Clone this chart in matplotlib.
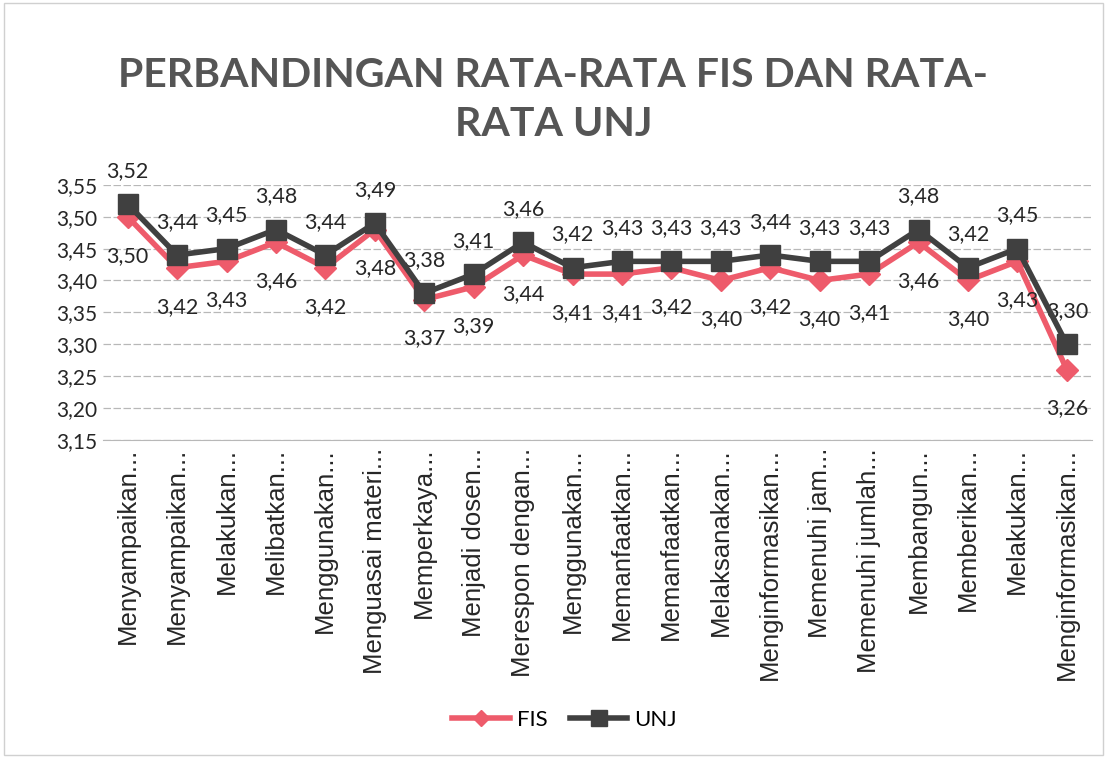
import matplotlib.pyplot as plt
from matplotlib.ticker import FuncFormatter, MultipleLocator
from matplotlib.patches import Rectangle

categories = [
    "Menyampaikan...", "Menyampaikan...", "Melakukan...", "Melibatkan...",
    "Menggunakan...", "Menguasai materi...", "Memperkaya...", "Menjadi dosen...",
    "Merespon dengan...", "Menggunakan...", "Memanfaatkan...", "Memanfaatkan...",
    "Melaksanakan...", "Menginformasikan...", "Memenuhi jam...", "Memenuhi jumlah...",
    "Membangun...", "Memberikan...", "Melakukan...", "Menginformasikan...",
]
fis = [3.50, 3.42, 3.43, 3.46, 3.42, 3.48, 3.37, 3.39, 3.44, 3.41,
       3.41, 3.42, 3.40, 3.42, 3.40, 3.41, 3.46, 3.40, 3.43, 3.26]
unj = [3.52, 3.44, 3.45, 3.48, 3.44, 3.49, 3.38, 3.41, 3.46, 3.42,
       3.43, 3.43, 3.43, 3.44, 3.43, 3.43, 3.48, 3.42, 3.45, 3.30]

fis_color = "#EE5B6B"
unj_color = "#404040"
label_font = "Lato"

fig = plt.figure(figsize=(11.07, 7.58), dpi=100)
fig.patches.append(Rectangle((0.004, 0.004), 0.992, 0.992, transform=fig.transFigure,
                             fill=False, edgecolor="#d0d0d0", linewidth=1))
ax = fig.add_axes([0.093, 0.42, 0.893, 0.336])

x = list(range(len(categories)))
ax.plot(x, fis, color=fis_color, linewidth=4, marker="D", markersize=11,
        label="FIS", zorder=3)
ax.plot(x, unj, color=unj_color, linewidth=4, marker="s", markersize=15,
        label="UNJ", zorder=4)

# data labels: UNJ above, FIS below
for xi, v in zip(x, unj):
    ax.annotate(f"{v:.2f}".replace(".", ","), (xi, v), xytext=(0, 24),
                textcoords="offset points", ha="center", va="center",
                fontsize=15.5, family=label_font, color="#262626")
for xi, v in zip(x, fis):
    ax.annotate(f"{v:.2f}".replace(".", ","), (xi, v), xytext=(0, -28),
                textcoords="offset points", ha="center", va="center",
                fontsize=15.5, family=label_font, color="#262626")

ax.set_xlim(-0.5, len(categories) - 0.5)
ax.set_ylim(3.15, 3.55)
ax.yaxis.set_major_locator(MultipleLocator(0.05))
ax.yaxis.set_major_formatter(FuncFormatter(lambda v, p: f"{v:.2f}".replace(".", ",")))
ax.grid(axis="y", color="#b8b8b8", linewidth=0.9, linestyle=(0, (6, 2)))
ax.set_axisbelow(True)
for s in ["top", "right", "left"]:
    ax.spines[s].set_visible(False)
ax.spines["bottom"].set_color("#b8b8b8")
ax.tick_params(axis="y", length=0, labelsize=15, colors="#262626", pad=4)
ax.tick_params(axis="x", length=0, pad=6)
ax.set_xticks(x)
ax.set_xticklabels(categories, rotation=90, fontsize=18.5,
                   family="Liberation Sans", color="#262626")
for lbl in ax.get_yticklabels():
    lbl.set_family(label_font)

fig.text(0.5, 0.868, "PERBANDINGAN RATA-RATA FIS DAN RATA-\nRATA UNJ",
         ha="center", va="center", fontsize=29.5, fontweight="bold",
         family=label_font, color="#555555", linespacing=1.4)

fig.legend(loc="center", bbox_to_anchor=(0.51, 0.05), ncol=2, frameon=False,
           prop={"family": label_font, "size": 16}, handlelength=2.6,
           markerscale=0.75, columnspacing=1.0, handletextpad=0.3)

fig.savefig("out.png", dpi=100)
